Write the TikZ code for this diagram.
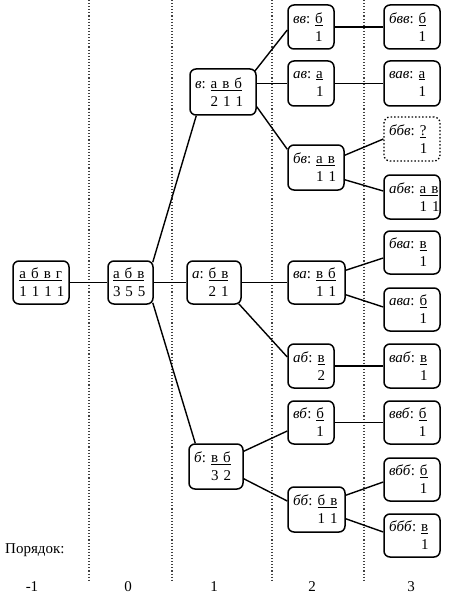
\documentclass[tikz,border=0pt]{standalone}
\usepackage{fontspec}
\setmainfont{Liberation Serif}
\newcommand\bx[3]{\mbox{\textit{#1}:~\underline{#2}}\\\mbox{\hphantom{\textit{#1}:~}#3}}
\newcommand\bxr[2]{\mbox{\underline{#1}}\\\mbox{#2}}
\begin{document}
\begin{tikzpicture}[x=1pt,y=-1pt,
  font=\fontsize{15}{18}\selectfont,
  tb/.style={draw,line width=1.5pt,rounded corners=6pt,align=left,inner xsep=5pt,inner ysep=0pt},
  tbq/.style={tb,dotted,line width=1.3pt},
  cn/.style={line width=1.4pt},
  sep/.style={dotted,line width=1.1pt,black!75},
  lab/.style={inner sep=0pt}]
\useasboundingbox (0,0) rectangle (460,599);
% separators
\foreach \x/\n in {89/s1,172/s2,272/s3,364/s4}{
  \coordinate (\n t) at (\x,0); \coordinate (\n b) at (\x,580);
  \draw[sep] (\n t) -- (\n b);
}
% nodes
\node[tb,text width=43pt,inner xsep=6.5pt,minimum height=43pt] (r) at (41,282.5) {\bxr{а б в г}{1 1 1 1}};
\node[tb,text width=35pt,minimum height=43pt] (n0) at (130.5,282.5) {\bxr{а б в}{3 5 5}};
\node[tb,text width=56pt,minimum height=46pt] (v) at (223,92) {\bx{в}{а в б}{2 1 1}};
\node[tb,text width=44pt,minimum height=43pt] (a) at (214,282.5) {\bx{а}{б в}{2 1}};
\node[tb,text width=44pt,minimum height=45pt] (b) at (216,466.5) {\bx{б}{в б}{3 2}};
\node[tb,text width=36pt,minimum height=44pt] (vv) at (311,27) {\bx{вв}{б}{1}};
\node[tb,text width=36pt,minimum height=45pt] (av) at (311,83.5) {\bx{ав}{а}{1}};
\node[tb,text width=46pt,minimum height=45pt] (bv) at (316,167.5) {\bx{бв}{а в}{1 1}};
\node[tb,text width=47pt,minimum height=43pt] (va) at (316.5,282.5) {\bx{ва}{в б}{1 1}};
\node[tb,text width=36pt,minimum height=44pt] (ab) at (311,366) {\bx{аб}{в}{2}};
\node[tb,text width=36pt,minimum height=43pt] (vb) at (311,422.5) {\bx{вб}{б}{1}};
\node[tb,text width=47pt,minimum height=45pt] (bb) at (316.5,509.5) {\bx{бб}{б в}{1 1}};
\node[tb,text width=46pt,minimum height=44pt] (bvv) at (412,27) {\bx{бвв}{б}{1}};
\node[tb,text width=46pt,minimum height=45pt] (vav) at (412,83.5) {\bx{вав}{а}{1}};
\node[tbq,text width=46pt,minimum height=44pt] (bbv) at (412,139) {\bx{ббв}{?}{1}};
\node[tb,text width=46pt,minimum height=44pt] (abv) at (412,197) {\bx{абв}{а в}{1 1}};
\node[tb,text width=46pt,minimum height=43pt] (bva) at (412,252.5) {\bx{бва}{в}{1}};
\node[tb,text width=46pt,minimum height=43pt] (ava) at (412,309.5) {\bx{ава}{б}{1}};
\node[tb,text width=46pt,minimum height=44pt] (vab) at (412,366) {\bx{ваб}{в}{1}};
\node[tb,text width=46pt,minimum height=43pt] (vvb) at (412,422.5) {\bx{ввб}{б}{1}};
\node[tb,text width=46pt,minimum height=43pt] (vbb) at (412,479.5) {\bx{вбб}{б}{1}};
\node[tb,text width=46pt,minimum height=43pt] (bbb) at (412,535.5) {\bx{ббб}{в}{1}};
% connectors
\draw[cn] (r) -- (n0);
\draw[cn] ([shift={(-1,2)}]n0.north east) -- ([shift={(7,0)}]v.south west);
\draw[cn] (n0) -- (a);
\draw[cn] ([shift={(-1,-2)}]n0.south east) -- ([shift={(7,0)}]b.north west);
\draw[cn] ([shift={(-2,3)}]v.north east) -- ([shift={(0,3)}]vv.west);
\draw[cn] (av.west -| v.east) -- (av.west);
\draw[cn] ([shift={(0,-9)}]v.south east) -- ([shift={(0,5)}]bv.north west);
\draw[cn] (a) -- (va);
\draw[cn] ([shift={(-3,-1)}]a.south east) -- ([shift={(0,-9)}]ab.west);
\draw[cn] (vv) -- (bvv);
\draw[cn] (av) -- (vav);
\draw[cn] ([shift={(0,11)}]bv.north east) -- (bbv.west);
\draw[cn] ([shift={(0,-11)}]bv.south east) -- ([shift={(0,-6)}]abv.west);
\draw[cn] ([shift={(0,10)}]va.north east) -- ([shift={(0,5.5)}]bva.west);
\draw[cn] ([shift={(0,-10)}]va.south east) -- ([shift={(0,-2.5)}]ava.west);
\draw[cn] (ab) -- (vab);
\draw[cn] ([shift={(0,8)}]b.north east) -- ([shift={(0,8.5)}]vb.west);
\draw[cn] ([shift={(0,-11)}]b.south east) -- ([shift={(0,-8.5)}]bb.west);
\draw[cn] (vb) -- (vvb);
\draw[cn] ([shift={(0,9)}]bb.north east) -- ([shift={(0,2.5)}]vbb.west);
\draw[cn] ([shift={(0,-14)}]bb.south east) -- ([shift={(0,-3.5)}]bbb.west);
% labels
\node[lab,anchor=west] (ord) at (5,550) {Порядок:};
\node[lab] (l1) at (32,587) {-1};
\node[lab] (l2) at (128,587) {0};
\node[lab] (l3) at (214,587) {1};
\node[lab] (l4) at (312,587) {2};
\node[lab] (l5) at (411,587) {3};
\end{tikzpicture}
\end{document}
